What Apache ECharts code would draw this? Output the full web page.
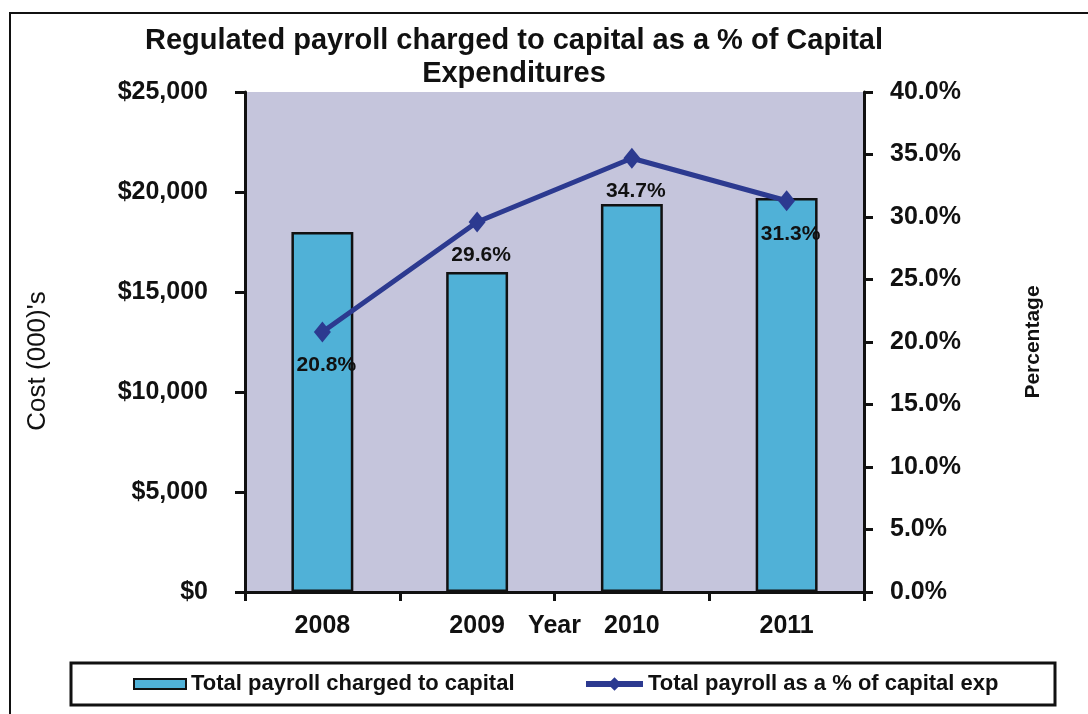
<!DOCTYPE html>
<html>
<head>
<meta charset="utf-8">
<title>Regulated payroll charged to capital</title>
<script src="https://cdn.jsdelivr.net/npm/echarts@6/dist/echarts.min.js"></script>
<style>
  html, body { margin: 0; padding: 0; background: #ffffff; }
  #chart { width: 1088px; height: 714px; }
</style>
</head>
<body>
<div id="chart"></div>
<script>
// Years on the category axis
const years = ['2008', '2009', '2010', '2011'];
// Payroll charged to capital, in thousands of dollars
const payrollCost = [18000, 16000, 19400, 19700];
// Payroll as a percentage of capital expenditures
const payrollPct = [20.8, 29.6, 34.7, 31.3];
// Axis tick settings
const costTicks = { min: 0, max: 25000, interval: 5000 };
const pctTicks = { min: 0, max: 40, interval: 5 };

const FONT = 'Arial, "Liberation Sans", Helvetica, sans-serif';
const INK = '#111111';

function dollars(v) {
  return '$' + v.toString().replace(/\B(?=(\d{3})+(?!\d))/g, ',');
}

const chart = echarts.init(document.getElementById('chart'), null, { renderer: 'canvas' });

chart.setOption({
  backgroundColor: '#ffffff',
  animation: false,
  textStyle: { fontFamily: FONT },
  title: {
    text: 'Regulated payroll charged to capital as a % of Capital\nExpenditures',
    left: 514,
    top: 24,
    textAlign: 'center',
    padding: 0,
    textStyle: {
      fontFamily: FONT,
      fontSize: 29,
      fontWeight: 'bold',
      color: INK,
      lineHeight: 33
    }
  },
  graphic: [
    {
      // outer chart frame
      type: 'rect',
      z: 0,
      shape: { x: 10, y: 13, width: 1100, height: 720 },
      style: { fill: 'none', stroke: INK, lineWidth: 2 }
    },
    {
      // legend frame
      type: 'rect',
      z: 1,
      shape: { x: 71, y: 663, width: 984, height: 42 },
      style: { fill: '#ffffff', stroke: INK, lineWidth: 3 }
    }
  ],
  legend: [
    {
      z: 10,
      left: 133,
      top: 673,
      padding: 0,
      itemWidth: 52,
      itemHeight: 10,
      icon: 'rect',
      textStyle: { fontFamily: FONT, fontSize: 22, fontWeight: 'bold', color: INK },
      data: [{ name: 'Total payroll charged to capital' }]
    },
    {
      z: 10,
      left: 583,
      top: 673,
      padding: 0,
      itemWidth: 57,
      itemHeight: 17,
      textStyle: { fontFamily: FONT, fontSize: 22, fontWeight: 'bold', color: INK },
      lineStyle: { width: 6 },
      data: [{ name: 'Total payroll as a % of capital exp' }]
    }
  ],
  grid: {
    left: 245,
    right: 224,
    top: 92,
    bottom: 122,
    show: true,
    backgroundColor: '#c5c5dc',
    borderWidth: 0
  },
  xAxis: {
    type: 'category',
    data: years,
    name: 'Year',
    nameLocation: 'middle',
    nameGap: 22,
    nameMoveOverlap: false,
    nameTextStyle: { fontFamily: FONT, fontSize: 25, fontWeight: 'bold', color: INK, verticalAlign: 'top' },
    axisLine: { lineStyle: { color: INK, width: 3 } },
    axisTick: { show: true, length: 9, lineStyle: { color: INK, width: 3 } },
    axisLabel: { margin: 22, fontFamily: FONT, fontSize: 25, fontWeight: 'bold', color: INK },
    splitLine: { show: false }
  },
  yAxis: [
    {
      type: 'value',
      position: 'left',
      min: costTicks.min,
      max: costTicks.max,
      interval: costTicks.interval,
      name: "Cost (000)'s",
      nameLocation: 'middle',
      nameRotate: 90,
      nameGap: 194,
      nameMoveOverlap: false,
      nameTextStyle: {
        fontFamily: FONT,
        fontSize: 26,
        fontWeight: 'normal',
        color: INK,
        padding: [0, 38, 0, 0]
      },
      axisLine: { show: true, lineStyle: { color: INK, width: 3 } },
      axisTick: { show: true, length: 10, lineStyle: { color: INK, width: 3 } },
      axisLabel: {
        margin: 37,
        fontFamily: FONT,
        fontSize: 25,
        fontWeight: 'bold',
        color: INK,
        formatter: dollars
      },
      splitLine: { show: false }
    },
    {
      type: 'value',
      position: 'right',
      min: pctTicks.min,
      max: pctTicks.max,
      interval: pctTicks.interval,
      name: 'Percentage',
      nameLocation: 'middle',
      nameRotate: 90,
      nameGap: 159,
      nameMoveOverlap: false,
      nameTextStyle: { fontFamily: FONT, fontSize: 21, fontWeight: 'bold', color: INK },
      axisLine: { show: true, lineStyle: { color: INK, width: 3 } },
      axisTick: { show: true, length: 9, lineStyle: { color: INK, width: 3 } },
      axisLabel: {
        margin: 26,
        fontFamily: FONT,
        fontSize: 25,
        fontWeight: 'bold',
        color: INK,
        formatter: function (v) { return v.toFixed(1) + '%'; }
      },
      splitLine: { show: false }
    }
  ],
  series: [
    {
      name: 'Total payroll charged to capital',
      type: 'bar',
      yAxisIndex: 0,
      data: payrollCost,
      barWidth: '40%',
      itemStyle: { color: '#50b1d7', borderColor: INK, borderWidth: 2.5 }
    },
    {
      name: 'Total payroll as a % of capital exp',
      type: 'line',
      yAxisIndex: 1,
      data: payrollPct,
      symbol: 'diamond',
      symbolSize: [17, 21],
      z: 5,
      lineStyle: { color: '#2c3a90', width: 5 },
      itemStyle: { color: '#2c3a90' },
      label: {
        show: true,
        position: 'bottom',
        distance: 12,
        offset: [4, 0],
        fontFamily: FONT,
        fontSize: 21,
        fontWeight: 'bold',
        color: INK,
        formatter: function (p) { return p.value.toFixed(1) + '%'; }
      }
    }
  ]
});
</script>
</body>
</html>
